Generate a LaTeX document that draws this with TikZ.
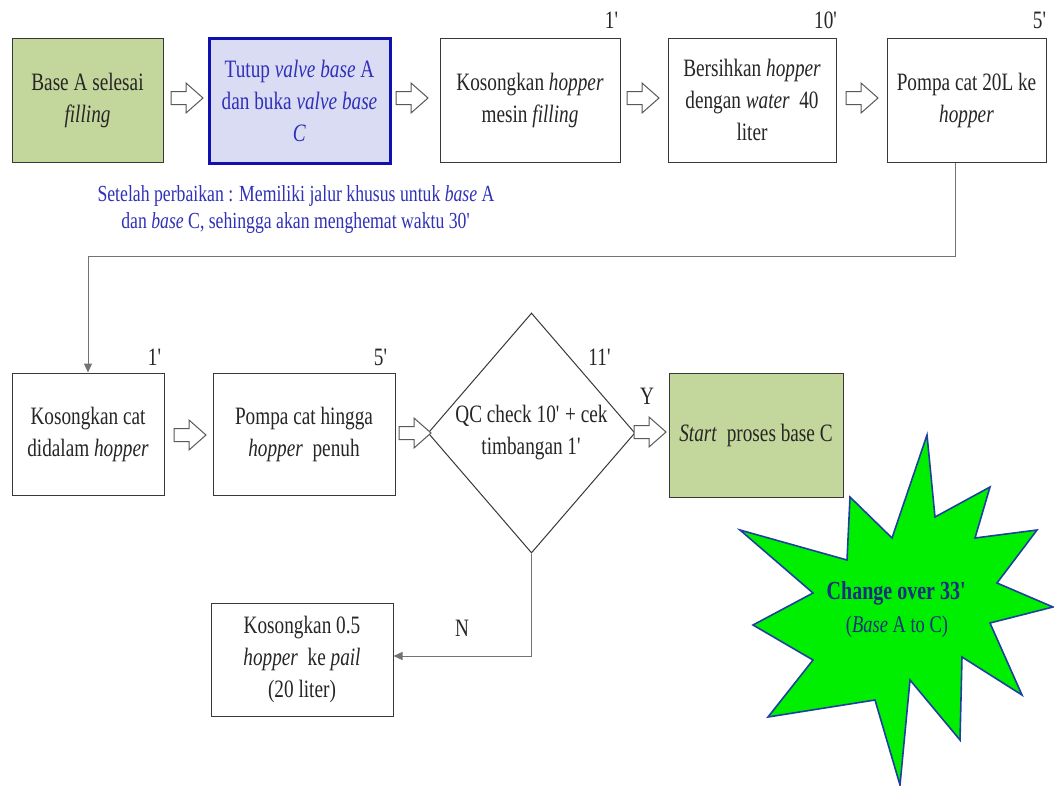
\documentclass[tikz,border=0pt]{standalone}
\usepackage{fontspec}
\setmainfont{Liberation Serif}[FakeStretch=0.77]
\usetikzlibrary{shapes.geometric,arrows.meta}
\definecolor{boxgreen}{HTML}{C3D69B}
\definecolor{boxblue}{HTML}{D9DCF2}
\definecolor{bordblue}{HTML}{1010B0}
\definecolor{txtblue}{HTML}{3030B8}
\definecolor{stargreen}{HTML}{00EE00}
\definecolor{starblue}{HTML}{2040A0}
\definecolor{startxt}{HTML}{1A2E80}
\definecolor{txt}{HTML}{262626}
\newcommand{\sq}{\textquotesingle}
\newcommand{\harrow}[2]{%
  \coordinate (#1) at (#2);
  \draw[hollowarr] ([shift={(-16,-6.5)}]#1) -- ([shift={(-1,-6.5)}]#1) -- ([shift={(-1,-15)}]#1)
   -- ([shift={(16,0)}]#1) -- ([shift={(-1,15)}]#1) -- ([shift={(-1,6.5)}]#1)
   -- ([shift={(-16,6.5)}]#1) -- cycle;}
\tikzset{
  box/.style={draw=black!78, line width=1pt, fill=white, align=center, inner sep=0pt, text=txt},
  hollowarr/.style={draw=black!65, fill=white, line width=1pt, line join=miter},
  conn/.style={draw=black!55, line width=1pt, -{Triangle[length=9pt,width=8pt]}},
  lbl/.style={text=txt, inner sep=0pt},
}
\begin{document}
\begin{tikzpicture}[x=1pt,y=-1pt, font=\fontsize{25}{32}\selectfont]
\useasboundingbox (0,0) rectangle (1054,785);
% Row 1
\node[box, fill=boxgreen, minimum width=151pt, minimum height=124pt] (b1) at (87.5,100) {Base A selesai\\\textit{filling}};
\node[box, fill=boxblue, draw=bordblue, line width=3pt, text=txtblue, minimum width=181pt, minimum height=125pt] (b2) at (299.5,100.5) {Tutup \textit{valve base} A\\dan buka \textit{valve base}\\\textit{C}};
\node[box, minimum width=180pt, minimum height=124pt] (b3) at (530,100) {Kosongkan \textit{hopper}\\mesin \textit{filling}};
\node[box, minimum width=168pt, minimum height=124pt] (b4) at (752,100) {Bersihkan \textit{hopper}\\dengan \textit{water}\ \ 40\\liter};
\node[box, minimum width=159pt, minimum height=124pt] (b5) at (966.5,100) {Pompa cat 20L ke\\\textit{hopper}};
\harrow{r1}{187,98}
\harrow{r2}{412,98}
\harrow{r3}{643,98}
\harrow{r4}{862,98}
\node[lbl] (t1) at (612,20) {1\sq};
\node[lbl] (t2) at (826,20) {10\sq};
\node[lbl] (t3) at (1040,20) {5\sq};
% annotation
\node[text=txtblue, align=center, inner sep=0pt, font=\fontsize{23}{27}\selectfont] (note) at (296,209) {Setelah perbaikan : Memiliki jalur khusus untuk \textit{base} A\\dan \textit{base} C, sehingga akan menghemat waktu 30\sq};
% Row 2
\node[box, minimum width=152pt, minimum height=122pt] (b6) at (88,434) {Kosongkan cat\\didalam \textit{hopper}};
\node[box, minimum width=182pt, minimum height=122pt] (b7) at (304,434) {Pompa cat hingga\\\textit{hopper}\ \ penuh};
\node[box, diamond, minimum width=197pt, minimum height=240pt] (d) at (531.5,433) {QC check 10\sq{} + cek\\timbangan 1\sq};
\node[box, fill=boxgreen, minimum width=174pt, minimum height=124pt] (b8) at (756,435) {\textit{Start}\ \ proses base C};
\node[box, minimum width=182pt, minimum height=113pt] (b9) at (302,659.5) {Kosongkan 0.5\\\textit{hopper}\ \ ke \textit{pail}\\(20 liter)};
\harrow{r5}{190,435}
\harrow{r6}{415,433}
\harrow{r7}{650,432}
\node[lbl] (t4) at (155,357) {1\sq};
\node[lbl] (t5) at (381,357) {5\sq};
\node[lbl] (t6) at (600,357) {11\sq};
\node[lbl] (ty) at (647,396) {Y};
\node[lbl] (tn) at (462,628) {N};
% connectors
\coordinate (k1) at (955,256);
\coordinate (k2) at (88,256);
\draw[conn] (b5.south -| k1) -- (k1) -- (k2) -- (k2 |- b6.north);
\coordinate (k3) at (531.5,656);
\draw[conn] (d.south) -- (k3) -- (k3 -| b9.east);
% starburst
\draw[fill=stargreen, draw=starblue, line width=1.6pt, line join=miter]
 (850,497) -- (892,538) -- (927,435) -- (935,517) -- (990,487) -- (975,538) -- (1037,530) -- (997,583) -- (1053,607) -- (990,623) -- (1022,695) -- (962,657) -- (960,740) -- (910,680) -- (900,785) -- (875,700) -- (768,717) -- (813,660) -- (753,625) -- (813,593) -- (740,530) -- (847,560) -- cycle;
\node[text=startxt, inner sep=0pt, font=\fontsize{26}{30}\selectfont\bfseries] (s1) at (897,593) {Change over 33\sq};
\node[text=startxt, inner sep=0pt, font=\fontsize{24}{30}\selectfont] (s2) at (897,627) {(\textit{Base} A to C)};
\end{tikzpicture}
\end{document}
